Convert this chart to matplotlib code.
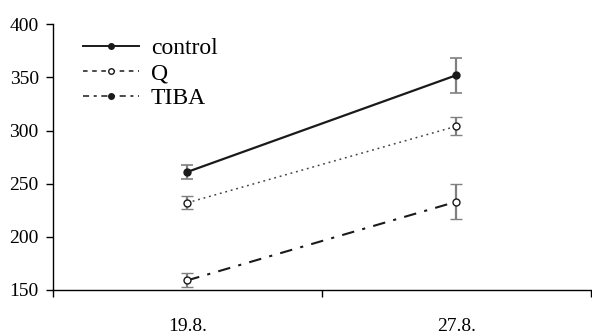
import matplotlib.pyplot as plt
from matplotlib.lines import Line2D
import numpy as np

plt.rcParams['font.family'] = ['Liberation Serif', 'DejaVu Serif']

dates = ['19.8.', '27.8.']
control = [261, 352]
control_err = [6.5, 16.5]
q = [232, 304]
q_err = [6, 8.5]
tiba = [159, 233]
tiba_err = [6.5, 16.5]

x = np.arange(len(dates)) + 0.5

fig = plt.figure(figsize=(5.92, 3.36), dpi=100)
ax = fig.add_axes([0.089, 0.137, 0.909, 0.791])

ebar = dict(ecolor='#808080', elinewidth=1.6, capsize=4, capthick=1.2)

ax.errorbar(x, control, yerr=control_err, color='#1a1a1a', lw=1.6,
            marker='o', ms=5, mfc='#1a1a1a', mec='#1a1a1a', zorder=3, **ebar)
ax.errorbar(x, q, yerr=q_err, color='#444444', lw=1.1, ls=(0, (1.2, 2.5)),
            marker='o', ms=5, mfc='white', mec='#1a1a1a', mew=1, zorder=3, **ebar)
ax.errorbar(x, tiba, yerr=tiba_err, color='#1a1a1a', lw=1.5, ls=(0, (6, 4, 1.5, 4)),
            marker='o', ms=5, mfc='white', mec='#1a1a1a', mew=1, zorder=3, **ebar)

ax.set_xlim(0, 2)
ax.set_ylim(150, 400)
ax.set_yticks([150, 200, 250, 300, 350, 400])
ax.set_xticks([0, 1, 2])
ax.set_xticklabels([])
ax.set_xticks(x, minor=True)
ax.set_xticklabels(dates, minor=True)
ax.tick_params(axis='x', which='minor', length=0, pad=20, labelsize=14)
ax.tick_params(axis='x', which='major', length=5, width=1, direction='out')
ax.tick_params(axis='y', length=5, width=1, direction='out', labelsize=14, pad=5)
ax.spines['top'].set_visible(False)
ax.spines['right'].set_visible(False)
ax.spines['left'].set_linewidth(1)
ax.spines['bottom'].set_linewidth(1)

handles = [
    Line2D([], [], color='#1a1a1a', lw=1.4, marker='o', ms=4, mfc='#1a1a1a'),
    Line2D([], [], color='#1a1a1a', lw=1.1, ls=(0, (3, 3)), marker='o', ms=4, mfc='white'),
    Line2D([], [], color='#1a1a1a', lw=1.1, ls=(0, (4, 3, 2, 3)), marker='o', ms=4, mfc='#1a1a1a'),
]
ax.legend(handles, ['control', 'Q', 'TIBA'], loc='upper left', frameon=False,
          bbox_to_anchor=(0.038, 0.985), fontsize=17, handlelength=2.4,
          handletextpad=0.5, labelspacing=0.15, borderaxespad=0)

fig.savefig('out.png', dpi=100)
